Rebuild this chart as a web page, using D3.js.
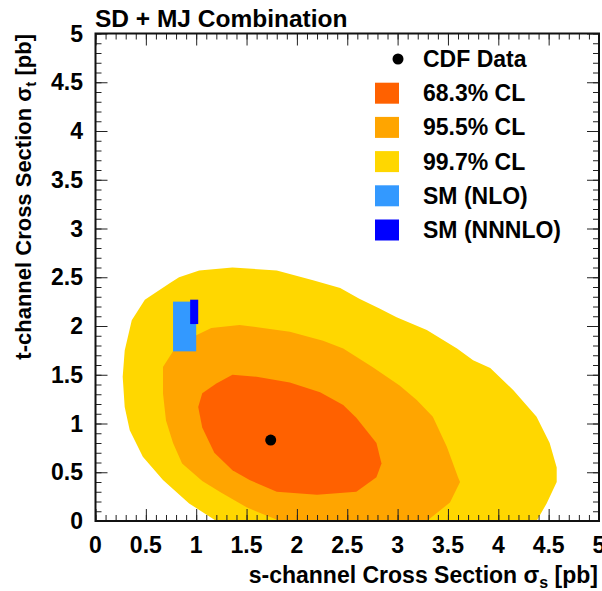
<!DOCTYPE html>
<html>
<head>
<meta charset="utf-8">
<script src="https://cdn.jsdelivr.net/npm/d3@7"></script>
<style>
  html, body { margin: 0; padding: 0; background: #fff; }
  svg text { font-family: "Liberation Sans", Arial, Helvetica, sans-serif; font-weight: bold; fill: #000; }
</style>
</head>
<body>
<svg id="chart" width="602" height="591"></svg>
<script>
// Axis ticks
const xMajorTicks = [0, 0.5, 1, 1.5, 2, 2.5, 3, 3.5, 4, 4.5, 5];
const yMajorTicks = [0, 0.5, 1, 1.5, 2, 2.5, 3, 3.5, 4, 4.5, 5];
const tickLabels = ["0", "0.5", "1", "1.5", "2", "2.5", "3", "3.5", "4", "4.5", "5"];

// Confidence-level contours, [sigma_s, sigma_t] in pb
const cl997 = [[1.20,0],[0.93,0.18],[0.67,0.42],[0.47,0.66],[0.34,0.93],[0.29,1.17],[0.27,1.48],
  [0.29,1.75],[0.36,2.06],[0.49,2.27],[0.74,2.44],[0.83,2.50],[1.03,2.57],[1.36,2.60],[1.80,2.57],
  [2.16,2.47],[2.43,2.39],[2.62,2.28],[2.82,2.18],[2.99,2.09],[3.29,1.96],[3.59,1.77],[3.75,1.65],
  [3.92,1.57],[4.15,1.34],[4.38,1.07],[4.51,0.80],[4.58,0.55],[4.58,0.40],[4.48,0.18],[4.38,0]];
const cl955 = [[1.83,0],[1.76,0.03],[1.50,0.14],[1.25,0.29],[1.06,0.41],[0.86,0.59],[0.77,0.80],
  [0.70,1.03],[0.67,1.31],[0.67,1.58],[0.77,1.74],[0.97,1.89],[1.15,1.98],[1.43,2.01],[1.66,1.98],
  [1.93,1.94],[2.26,1.85],[2.46,1.77],[2.75,1.58],[3.02,1.39],[3.19,1.24],[3.35,1.07],[3.49,0.76],
  [3.60,0.45],[3.62,0.40],[3.52,0.19],[3.29,0]];
const cl683 = [[1.20,1.41],[1.36,1.50],[1.60,1.48],[1.93,1.42],[2.23,1.32],[2.46,1.19],[2.59,1.06],
  [2.79,0.80],[2.84,0.59],[2.79,0.45],[2.59,0.30],[2.20,0.27],[1.80,0.30],[1.53,0.42],[1.36,0.52],
  [1.18,0.70],[1.06,0.96],[1.02,1.17],[1.06,1.31]];

// Measured value and SM predictions: [s, t] and [s range], [t range]
const cdfData = [1.74, 0.83];
const smNLO = { s: [0.77, 1.00], t: [1.74, 2.25] };
const smNNNLO = { s: [0.94, 1.02], t: [2.02, 2.27] };

const legendLabels = ["CDF Data", "68.3% CL", "95.5% CL", "99.7% CL", "SM (NLO)", "SM (NNNLO)"];
const colors = { cl683: "#ff6100", cl955: "#ffa500", cl997: "#ffd700", nlo: "#3399ff", nnnlo: "#0000ff" };

const svg = d3.select("#chart");
const frame = { left: 95.5, right: 599, top: 33.5, bottom: 521 };
const x = d3.scaleLinear().domain([0, 5]).range([frame.left, frame.right]);
const y = d3.scaleLinear().domain([0, 5]).range([frame.bottom, frame.top]);

svg.append("defs").append("clipPath").attr("id", "plotClip")
  .append("rect").attr("x", frame.left).attr("y", frame.top)
  .attr("width", frame.right - frame.left).attr("height", frame.bottom - frame.top);

const plot = svg.append("g").attr("clip-path", "url(#plotClip)");
const line = d3.line().x(d => x(d[0])).y(d => y(d[1])).curve(d3.curveLinearClosed);

plot.append("path").attr("d", line(cl997)).attr("fill", colors.cl997);
plot.append("path").attr("d", line(cl955)).attr("fill", colors.cl955);
plot.append("path").attr("d", line(cl683)).attr("fill", colors.cl683);

function band(b, color) {
  plot.append("rect")
    .attr("x", x(b.s[0])).attr("width", x(b.s[1]) - x(b.s[0]))
    .attr("y", y(b.t[1])).attr("height", y(b.t[0]) - y(b.t[1]))
    .attr("fill", color);
}
band(smNLO, colors.nlo);
band(smNNNLO, colors.nnnlo);

plot.append("circle").attr("cx", x(cdfData[0])).attr("cy", y(cdfData[1])).attr("r", 5.5).attr("fill", "#000");

// Axes: major ticks every 0.5, minor every 0.1, drawn inward on all four sides
const minor = d3.range(0, 50.5).map(i => i / 10);
function axisPair(gen, scale, transform, size) {
  svg.append("g").attr("transform", transform)
    .call(gen(scale).tickValues(minor).tickSize(size * 0.5).tickFormat(""))
    .call(g => g.select(".domain").remove());
  svg.append("g").attr("transform", transform)
    .call(gen(scale).tickValues(xMajorTicks).tickSize(size).tickFormat(""))
    .call(g => g.select(".domain").remove());
}
axisPair(d3.axisBottom, x, `translate(0,${frame.bottom})`, -12);
axisPair(d3.axisTop, x, `translate(0,${frame.top})`, -12);
axisPair(d3.axisLeft, y, `translate(${frame.left},0)`, -12);
axisPair(d3.axisRight, y, `translate(${frame.right},0)`, -12);
svg.selectAll(".tick line").attr("stroke", "#222").attr("stroke-width", 1);

svg.append("rect").attr("x", frame.left).attr("y", frame.top)
  .attr("width", frame.right - frame.left).attr("height", frame.bottom - frame.top)
  .attr("fill", "none").attr("stroke", "#111").attr("stroke-width", 2);

// Tick labels
svg.append("g").selectAll("text").data(xMajorTicks).join("text")
  .attr("x", d => x(d)).attr("y", 553).attr("text-anchor", "middle").attr("font-size", 23)
  .text((d, i) => tickLabels[i]);
svg.append("g").selectAll("text").data(yMajorTicks).join("text")
  .attr("x", 83).attr("y", d => y(d) + 8).attr("text-anchor", "end").attr("font-size", 23)
  .text((d, i) => tickLabels[i]);

// Title
svg.append("text").attr("x", 95).attr("y", 27).attr("font-size", 24.5).text("SD + MJ Combination");

// Axis titles
const xt = svg.append("text").attr("x", 598).attr("y", 583).attr("text-anchor", "end").attr("font-size", 23);
xt.append("tspan").text("s-channel Cross Section σ");
xt.append("tspan").attr("font-size", 16).attr("dy", 5).text("s");
xt.append("tspan").attr("dy", -5).text(" [pb]");

const yt = svg.append("text").attr("transform", "translate(31,34) rotate(-90)").attr("text-anchor", "end").attr("font-size", 22);
yt.append("tspan").text("t-channel Cross Section σ");
yt.append("tspan").attr("font-size", 15).attr("dy", 5).text("t");
yt.append("tspan").attr("dy", -5).text(" [pb]");

// Legend
const legendSwatches = [null, colors.cl683, colors.cl955, colors.cl997, colors.nlo, colors.nnnlo];
const legend = svg.append("g");
legendLabels.forEach((label, i) => {
  const cy = 59 + i * 34.2;
  if (i === 0) {
    legend.append("circle").attr("cx", 398).attr("cy", cy).attr("r", 5.5).attr("fill", "#000");
  } else {
    legend.append("rect").attr("x", 375).attr("y", cy - 10.5).attr("width", 24).attr("height", 21)
      .attr("fill", legendSwatches[i]);
  }
  legend.append("text").attr("x", 423).attr("y", cy + 8).attr("font-size", 23).text(label);
});
</script>
</body>
</html>
